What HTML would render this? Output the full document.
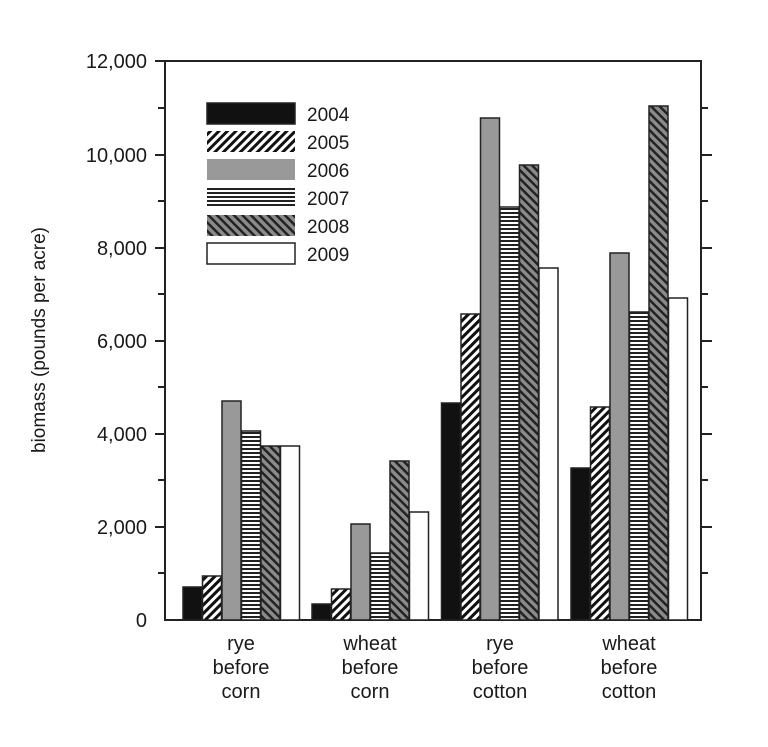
<!DOCTYPE html>
<html><head><meta charset="utf-8"><style>
html,body{margin:0;padding:0;background:#fff;}
svg{display:block;}
text{font-family:"Liberation Sans Narrow","Liberation Sans",sans-serif;fill:#1a1a1a;}
</style></head><body>
<svg width="768" height="747" viewBox="0 0 768 747" xmlns="http://www.w3.org/2000/svg">
<defs>
<pattern id="p05" patternUnits="userSpaceOnUse" width="6" height="6" patternTransform="rotate(45)">
<rect width="6" height="6" fill="#fff"/><rect width="3" height="6" fill="#111"/></pattern>
<pattern id="p07" patternUnits="userSpaceOnUse" width="4" height="4">
<rect width="4" height="4" fill="#fff"/><rect width="4" height="2" fill="#222"/></pattern>
<pattern id="p08" patternUnits="userSpaceOnUse" width="6" height="6" patternTransform="rotate(-45)">
<rect width="6" height="6" fill="#8a8a8a"/><rect width="2.5" height="6" fill="#222"/></pattern>
</defs>
<g stroke="#222" stroke-width="2" fill="none">
<polyline points="165,620 165,61 701,61 701,620"/>
<line x1="164" y1="620" x2="702" y2="620"/>
</g>
<g stroke="#222" stroke-width="2">
<line x1="155" y1="61" x2="165" y2="61"/><line x1="158" y1="108" x2="165" y2="108"/>
<line x1="155" y1="155" x2="165" y2="155"/><line x1="158" y1="201" x2="165" y2="201"/>
<line x1="155" y1="248" x2="165" y2="248"/><line x1="158" y1="294" x2="165" y2="294"/>
<line x1="155" y1="341" x2="165" y2="341"/><line x1="158" y1="387" x2="165" y2="387"/>
<line x1="155" y1="434" x2="165" y2="434"/><line x1="158" y1="480" x2="165" y2="480"/>
<line x1="155" y1="527" x2="165" y2="527"/><line x1="158" y1="573" x2="165" y2="573"/>
<line x1="701" y1="108" x2="708" y2="108"/><line x1="701" y1="155" x2="712" y2="155"/>
<line x1="701" y1="201" x2="708" y2="201"/><line x1="701" y1="248" x2="712" y2="248"/>
<line x1="701" y1="294" x2="708" y2="294"/><line x1="701" y1="341" x2="712" y2="341"/>
<line x1="701" y1="387" x2="708" y2="387"/><line x1="701" y1="434" x2="712" y2="434"/>
<line x1="701" y1="480" x2="708" y2="480"/><line x1="701" y1="527" x2="712" y2="527"/>
<line x1="701" y1="573" x2="708" y2="573"/>
</g>
<g font-size="20" text-anchor="end">
<text x="147" y="68">12,000</text><text x="147" y="162">10,000</text>
<text x="147" y="255">8,000</text><text x="147" y="348">6,000</text>
<text x="147" y="441">4,000</text><text x="147" y="534">2,000</text>
<text x="147" y="627">0</text>
</g>
<text transform="translate(45,340) rotate(-90)" font-size="19" text-anchor="middle">biomass (pounds per acre)</text>
<g stroke="#222" stroke-width="1.5">
<!-- group 1 -->
<rect x="183" y="587" width="19" height="33" fill="#111"/>
<rect x="202.5" y="576" width="19" height="44" fill="url(#p05)"/>
<rect x="222" y="401" width="19" height="219" fill="#999"/>
<rect x="241.5" y="431" width="19" height="189" fill="url(#p07)"/>
<rect x="261" y="446" width="19" height="174" fill="url(#p08)"/>
<rect x="280.5" y="446" width="19" height="174" fill="#fff"/>
<!-- group 2 -->
<rect x="312" y="604" width="19" height="16" fill="#111"/>
<rect x="331.5" y="589" width="19" height="31" fill="url(#p05)"/>
<rect x="351" y="524" width="19" height="96" fill="#999"/>
<rect x="370.5" y="553" width="19" height="67" fill="url(#p07)"/>
<rect x="390" y="461" width="19" height="159" fill="url(#p08)"/>
<rect x="409.5" y="512" width="19" height="108" fill="#fff"/>
<!-- group 3 -->
<rect x="441.5" y="403" width="19" height="217" fill="#111"/>
<rect x="461" y="314" width="19" height="306" fill="url(#p05)"/>
<rect x="480.5" y="118" width="19" height="502" fill="#999"/>
<rect x="500" y="207" width="19" height="413" fill="url(#p07)"/>
<rect x="519.5" y="165" width="19" height="455" fill="url(#p08)"/>
<rect x="539" y="268" width="19" height="352" fill="#fff"/>
<!-- group 4 -->
<rect x="571" y="468" width="19" height="152" fill="#111"/>
<rect x="590.5" y="407" width="19" height="213" fill="url(#p05)"/>
<rect x="610" y="253" width="19" height="367" fill="#999"/>
<rect x="629.5" y="312" width="19" height="308" fill="url(#p07)"/>
<rect x="649" y="106" width="19" height="514" fill="url(#p08)"/>
<rect x="668.5" y="298" width="19" height="322" fill="#fff"/>
<!-- legend -->
<rect x="207" y="103" width="88" height="21" fill="#111"/>
<rect x="207" y="131" width="88" height="21" fill="url(#p05)" stroke="none"/>
<rect x="207" y="159" width="88" height="21" fill="#999" stroke="none"/>
<rect x="207" y="187" width="88" height="21" fill="url(#p07)" stroke="none"/>
<rect x="207" y="215" width="88" height="21" fill="url(#p08)" stroke="none"/>
<rect x="207" y="243" width="88" height="21" fill="#fff"/>
</g>
<g font-size="19">
<text x="307" y="121">2004</text><text x="307" y="149">2005</text>
<text x="307" y="177">2006</text><text x="307" y="205">2007</text>
<text x="307" y="233">2008</text><text x="307" y="261">2009</text>
</g>
<g font-size="20" text-anchor="middle">
<text x="241" y="650">rye</text><text x="241" y="674">before</text><text x="241" y="698">corn</text>
<text x="370" y="650">wheat</text><text x="370" y="674">before</text><text x="370" y="698">corn</text>
<text x="500" y="650">rye</text><text x="500" y="674">before</text><text x="500" y="698">cotton</text>
<text x="629" y="650">wheat</text><text x="629" y="674">before</text><text x="629" y="698">cotton</text>
</g>
</svg>
</body></html>
